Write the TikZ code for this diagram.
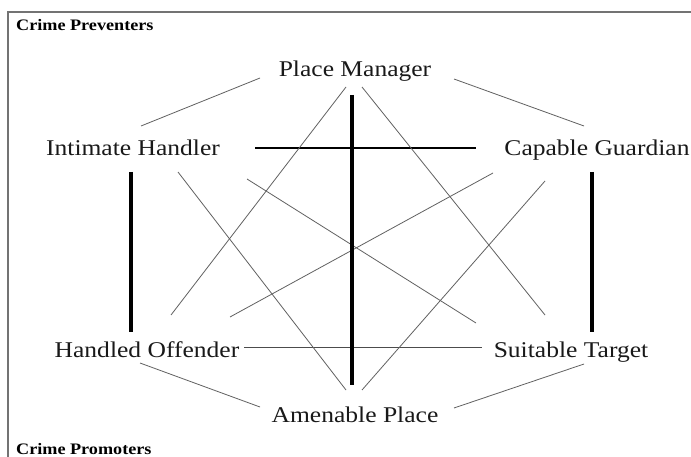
\documentclass[tikz,border=0pt]{standalone}
\usepackage{fontspec}
\setmainfont{Liberation Serif}
\usepackage{graphicx}
\newcommand\wlbl[1]{\scalebox{1.135}[1]{#1}}
\begin{document}
\begin{tikzpicture}[x=1pt,y=1pt,
  lbl/.style={inner sep=0pt, anchor=base, text=black!90, font=\fontsize{22.5}{26}\selectfont},
  corner/.style={inner sep=0pt, anchor=base west, text=black, font=\fontsize{16}{18}\selectfont\bfseries},
  thin/.style={draw=black!62, line width=0.8pt},
  thick/.style={draw=black, line width=4pt},
  mid/.style={draw=black, line width=1.8pt}]
\useasboundingbox (0,0) rectangle (691,456);
\clip (0,0) rectangle (691,456);
\fill[white] (0,0) rectangle (691,456);
\draw[black!55, line width=1.4pt] (8,-10) -- (8,444) -- (700,444);
% nodes
\node[corner] (prev) at (16,425) {\wlbl{Crime Preventers}};
\node[corner] (prom) at (16,2) {\wlbl{Crime Promoters}};
\node[lbl] (pm) at (355,379) {\wlbl{Place Manager}};
\node[lbl] (ih) at (133,300) {\wlbl{Intimate Handler}};
\node[lbl] (cg) at (597,300) {\wlbl{Capable Guardian}};
\node[lbl] (ho) at (147,99) {\wlbl{Handled Offender}};
\node[lbl] (st) at (571,99) {\wlbl{Suitable Target}};
\node[lbl] (ap) at (355,34) {\wlbl{Amenable Place}};
% outer hexagon edges
\draw[thin] ([shift={(-95,-1)}]pm.base) -- ([shift={(8,30)}]ih.base);
\draw[thin] ([shift={(99,-2)}]pm.base) -- ([shift={(-13,30)}]cg.base);
\draw[thin] ([shift={(-7,-6)}]ho.base) -- ([shift={(-95,15)}]ap.base);
\draw[thin] ([shift={(13,-7)}]st.base) -- ([shift={(99,14)}]ap.base);
% horizontals
\draw[mid] ([shift={(122,8)}]ih.base) -- ([shift={(-121,8)}]cg.base);
\draw[thin, draw=black!70] ([shift={(97,10)}]ho.base) -- ([shift={(-89,10)}]st.base);
% diagonals
\draw[thin] ([shift={(-9,-10)}]pm.base) -- ([shift={(24,42)}]ho.base);
\draw[thin] ([shift={(7,-10)}]pm.base) -- ([shift={(-26,42)}]st.base);
\draw[thin] ([shift={(45,-16)}]ih.base) -- ([shift={(-9,32)}]ap.base);
\draw[thin] ([shift={(-52,-25)}]cg.base) -- ([shift={(7,32)}]ap.base);
\draw[thin] ([shift={(114,-23)}]ih.base) -- ([shift={(-95,34)}]st.base);
\draw[thin] ([shift={(-104,-17)}]cg.base) -- ([shift={(83,40)}]ho.base);
% thick verticals
\draw[thick] ([shift={(-3,-18)}]pm.base) -- ([shift={(-3,37)}]ap.base);
\draw[thick] ([shift={(-2,-16)}]ih.base) -- ([shift={(-16,25)}]ho.base);
\draw[thick] ([shift={(-5,-16)}]cg.base) -- ([shift={(21,25)}]st.base);
\end{tikzpicture}
\end{document}
